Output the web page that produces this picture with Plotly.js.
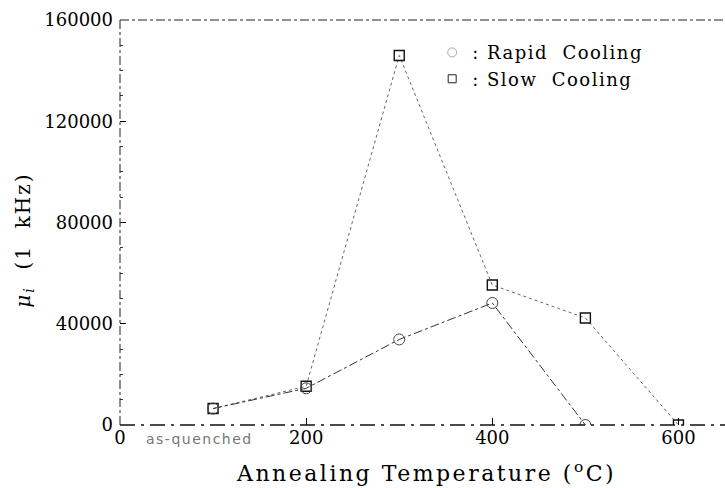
<!DOCTYPE html>
<html>
<head>
<meta charset="utf-8">
<script src="https://cdn.plot.ly/plotly-3.0.1.min.js"></script>
<style>
html,body{margin:0;padding:0;background:#fff;}
#chart{width:725px;height:488px;}
.legendtext{letter-spacing:1.5px;}
</style>
</head>
<body>
<div id="chart"></div>
<script>
// Annealing temperature (°C); 100 = as-quenched position
const rapidTemps = [100, 200, 300, 400, 500];
const rapidCooling = [6500, 14500, 33800, 48200, 0];
const slowTemps = [100, 200, 300, 400, 500, 600];
const slowCooling = [6500, 15300, 146000, 55300, 42300, 0];
const xTickVals = [0, 200, 400, 600];
const xTickText = ['0', '200', '400', '600'];
const yTickVals = [0, 40000, 80000, 120000, 160000];
const yTickText = ['0', '40000', '80000', '120000', '160000'];
const legendNames = [': Rapid  Cooling', ': Slow  Cooling'];

const serif = '"DejaVu Serif", "Liberation Serif", serif';

const traces = [
  {
    x: slowTemps, y: slowCooling, mode: 'lines+markers', showlegend: false,
    line: {color: '#666', width: 1, dash: 'dot'},
    marker: {symbol: 'square-open', size: 10, color: '#111', line: {width: 1.4}}
  },
  {
    x: rapidTemps, y: rapidCooling, mode: 'lines+markers', showlegend: false,
    line: {color: '#333', width: 1, dash: 'dashdot'},
    marker: {symbol: 'circle-open', size: 11, color: '#444', line: {width: 1}}
  },
  {
    x: [null], y: [null], mode: 'markers', name: legendNames[0],
    marker: {symbol: 'circle-open', size: 9, color: '#aaa', line: {width: 1}}
  },
  {
    x: [null], y: [null], mode: 'markers', name: legendNames[1],
    marker: {symbol: 'square-open', size: 8, color: '#222', line: {width: 1}}
  }
];

const layout = {
  width: 725, height: 488,
  margin: {l: 120, r: 0, t: 20, b: 63},
  paper_bgcolor: '#fff', plot_bgcolor: '#fff',
  font: {family: serif, color: '#000', size: 15},
  showlegend: true,
  legend: {
    x: 0.516, y: 0.965, xanchor: 'left', yanchor: 'top',
    bgcolor: 'rgba(0,0,0,0)', itemwidth: 30, tracegroupgap: 0,
    font: {family: serif, size: 18, color: '#000'}
  },
  xaxis: {
    range: [0, 650], tickvals: xTickVals, ticktext: xTickText,
    ticks: 'inside', ticklen: 7, tickcolor: '#000', tickwidth: 1,
    showgrid: false, zeroline: false, showline: false,
    tickfont: {family: serif, size: 18, color: '#000'}
  },
  yaxis: {
    range: [0, 160000], tickvals: yTickVals, ticktext: yTickText,
    ticks: 'inside', ticklen: 6, tickcolor: '#000', tickwidth: 1,
    ticklabelstandoff: 6,
    minor: {dtick: 10000, ticks: 'inside', ticklen: 3, tickcolor: '#333'},
    showgrid: false, zeroline: false, showline: false,
    tickfont: {family: serif, size: 18, color: '#000'}
  },
  shapes: [
    {type: 'line', xref: 'paper', yref: 'paper', x0: 0, x1: 1, y0: 1, y1: 1,
     line: {color: '#222', width: 1, dash: 'dashdot'}},
    {type: 'line', xref: 'paper', yref: 'paper', x0: 0, x1: 0, y0: 0, y1: 1,
     line: {color: '#222', width: 1, dash: 'dashdot'}},
    {type: 'line', xref: 'paper', yref: 'paper', x0: 0, x1: 1, y0: 0, y1: 0,
     line: {color: '#111', width: 1.5, dash: 'longdashdot'}}
  ],
  annotations: [
    {xref: 'paper', yref: 'paper', x: 0.506, y: -0.116, xanchor: 'center', yanchor: 'middle',
     text: '<span style="letter-spacing:2.5px">Annealing Temperature (<sup>o</sup>C)</span>',
     showarrow: false, font: {family: serif, size: 22, color: '#000'}},
    {xref: 'paper', yref: 'paper', x: -0.159, y: 0.457, xanchor: 'center', yanchor: 'middle',
     textangle: -90,
     text: '<span style="letter-spacing:2px"><i>μ</i><sub><i>i</i></sub>  (1  kHz)</span>',
     showarrow: false, font: {family: serif, size: 20, color: '#000'}},
    {xref: 'paper', yref: 'paper', x: 0.132, y: 0, yshift: -4, yanchor: 'top', xanchor: 'center',
     text: '<span style="letter-spacing:1.5px">as-quenched</span>', showarrow: false,
     font: {family: '"DejaVu Sans", sans-serif', size: 14, color: '#777'}}
  ]
};

Plotly.newPlot('chart', traces, layout, {displayModeBar: false, staticPlot: true});
</script>
</body>
</html>
